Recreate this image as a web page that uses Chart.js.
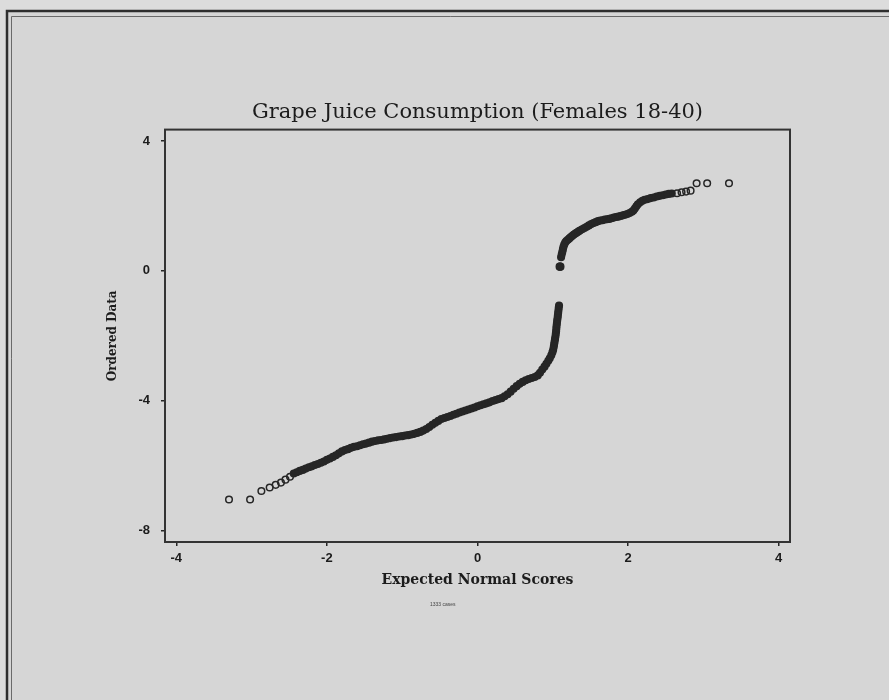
<!DOCTYPE html>
<html>
<head>
<meta charset="utf-8">
<script src="https://cdn.jsdelivr.net/npm/chart.js@4.4.1/dist/chart.umd.min.js"></script>
<style>
  html, body { margin: 0; padding: 0; background: #d6d6d6; }
  canvas { display: block; }
</style>
</head>
<body>
<canvas id="qq" width="889" height="700"></canvas>
<script>
// Text drawn on the chart
const chartTitle = 'Grape Juice Consumption (Females 18-40)';
const xAxisTitle = 'Expected Normal Scores';
const yAxisTitle = 'Ordered Data';
const caseNote = '1333 cases';

// Tick values on each axis
const xTicks = [-4, -2, 0, 2, 4];
const yTicks = [4, 0, -4, -8];

// Normal probability plot: expected normal score vs ordered value
const normalScores = [
  -3.30, -3.02, -2.87, -2.76, -2.68, -2.61, -2.55, -2.49, -2.44,
  -2.40, -2.36, -2.32, -2.28, -2.24, -2.20, -2.16, -2.12, -2.08, -2.04,
  -2.00, -1.96, -1.92, -1.88, -1.84, -1.80, -1.76, -1.72, -1.68, -1.64,
  -1.60, -1.56, -1.52, -1.48, -1.44, -1.40, -1.36, -1.32, -1.28, -1.24,
  -1.20, -1.16, -1.12, -1.08, -1.04, -1.00, -0.96, -0.92, -0.88, -0.84,
  -0.80, -0.76, -0.72, -0.68, -0.64, -0.60, -0.56, -0.52, -0.48, -0.44,
  -0.40, -0.36, -0.32, -0.28, -0.24, -0.20, -0.16, -0.12, -0.08, -0.04,
  0.00, 0.04, 0.08, 0.12, 0.16, 0.20, 0.24, 0.28, 0.32, 0.36,
  0.40, 0.44, 0.48, 0.52, 0.56, 0.60, 0.64, 0.68, 0.72, 0.76,
  0.80, 0.83, 0.86, 0.89, 0.915, 0.94, 0.96, 0.98, 0.995, 1.005,
  1.013, 1.018, 1.024, 1.030, 1.035, 1.040, 1.044, 1.047, 1.050, 1.054,
  1.058, 1.063, 1.067, 1.071, 1.075, 1.079, 1.083,
  1.090, 1.096, 1.102,
  1.110, 1.118, 1.126, 1.134, 1.142, 1.152, 1.165, 1.18, 1.20, 1.22,
  1.24, 1.26, 1.28, 1.30, 1.32, 1.34, 1.36, 1.39, 1.42, 1.45,
  1.48, 1.51, 1.54, 1.57, 1.60, 1.63, 1.66, 1.69, 1.72, 1.75,
  1.78, 1.81, 1.84, 1.87, 1.90, 1.93, 1.96, 1.99, 2.02, 2.05,
  2.07, 2.09, 2.11, 2.13, 2.16, 2.19, 2.22, 2.26, 2.30, 2.34,
  2.38, 2.42, 2.46, 2.50, 2.54, 2.58,
  2.65, 2.71, 2.77, 2.83, 2.91, 3.05, 3.34
];
const orderedData = [
  -7.04, -7.04, -6.78, -6.67, -6.59, -6.52, -6.43, -6.34, -6.24,
  -6.20, -6.16, -6.13, -6.09, -6.05, -6.02, -5.98, -5.95, -5.91, -5.87,
  -5.82, -5.78, -5.73, -5.68, -5.62, -5.56, -5.52, -5.49, -5.45, -5.42,
  -5.40, -5.37, -5.34, -5.32, -5.29, -5.26, -5.24, -5.22, -5.21, -5.19,
  -5.17, -5.15, -5.13, -5.12, -5.10, -5.09, -5.07, -5.06, -5.04, -5.02,
  -4.99, -4.96, -4.92, -4.87, -4.81, -4.74, -4.68, -4.62, -4.56, -4.53,
  -4.50, -4.47, -4.43, -4.40, -4.36, -4.33, -4.30, -4.27, -4.24, -4.21,
  -4.17, -4.14, -4.11, -4.08, -4.05, -4.01, -3.98, -3.95, -3.92, -3.86,
  -3.80, -3.72, -3.63, -3.55, -3.48, -3.42, -3.37, -3.33, -3.30, -3.27,
  -3.22, -3.14, -3.04, -2.95, -2.86, -2.77, -2.69, -2.60, -2.51, -2.43,
  -2.34, -2.26, -2.18, -2.10, -2.02, -1.94, -1.86, -1.78, -1.70, -1.62,
  -1.54, -1.46, -1.38, -1.30, -1.22, -1.14, -1.07,
  0.13, 0.13, 0.13,
  0.42, 0.50, 0.58, 0.66, 0.74, 0.81, 0.87, 0.92, 0.96, 1.00,
  1.04, 1.08, 1.12, 1.15, 1.18, 1.21, 1.24, 1.28, 1.32, 1.36,
  1.40, 1.44, 1.47, 1.50, 1.53, 1.55, 1.56, 1.58, 1.59, 1.60,
  1.62, 1.64, 1.66, 1.67, 1.69, 1.71, 1.73, 1.75, 1.78, 1.82,
  1.86, 1.92, 1.99, 2.05, 2.11, 2.16, 2.19, 2.21, 2.24, 2.26,
  2.29, 2.31, 2.33, 2.35, 2.37, 2.38,
  2.39, 2.42, 2.44, 2.47, 2.70, 2.70, 2.70
];

const ink = '#262626';
const paper = '#d6d6d6';
const serif = '"DejaVu Serif", "Liberation Serif", serif';
const sans = '"Liberation Sans", "DejaVu Sans", sans-serif';

const points = normalScores.map((x, i) => ({ x: x, y: orderedData[i] }));

// Markers that sit on top of their neighbours merge into a solid trace;
// isolated ones stay as open circles.
function markerFill(ctx) {
  const i = ctx.dataIndex;
  const ch = ctx.chart;
  if (i === undefined || !ch.scales || !ch.scales.x || !ch.scales.y) return 'rgba(0,0,0,0)';
  const sx = ch.scales.x, sy = ch.scales.y;
  const at = j => [sx.getPixelForValue(normalScores[j]), sy.getPixelForValue(orderedData[j])];
  const p = at(i);
  let nearest = Infinity;
  [i - 1, i + 1].forEach(j => {
    if (j >= 0 && j < normalScores.length) {
      const q = at(j);
      nearest = Math.min(nearest, Math.hypot(q[0] - p[0], q[1] - p[1]));
    }
  });
  return nearest < 4.4 ? ink : 'rgba(0,0,0,0)';
}

// Page background, outer frame, plot box and case count
const decor = {
  id: 'decor',
  beforeDraw(chart) {
    const c = chart.ctx;
    c.save();
    c.fillStyle = '#dcdcdc';
    c.fillRect(0, 0, chart.width, chart.height);
    c.fillStyle = paper;
    c.fillRect(8, 11, chart.width - 8, chart.height - 11);
    c.strokeStyle = '#2e2e2e';
    c.lineWidth = 2.5;
    c.beginPath();
    c.moveTo(7, chart.height); c.lineTo(7, 11); c.lineTo(chart.width, 11);
    c.stroke();
    c.strokeStyle = '#6a6a6a';
    c.lineWidth = 1;
    c.beginPath();
    c.moveTo(11.5, chart.height); c.lineTo(11.5, 16.5); c.lineTo(chart.width, 16.5);
    c.stroke();
    c.restore();
  },
  afterDatasetsDraw(chart) {
    const a = chart.chartArea;
    const c = chart.ctx;
    c.save();
    c.strokeStyle = '#333333';
    c.lineWidth = 2;
    c.strokeRect(a.left, a.top, a.right - a.left, a.bottom - a.top);
    c.fillStyle = '#444444';
    c.font = '5px ' + sans;
    c.textAlign = 'left';
    c.textBaseline = 'middle';
    c.fillText(caseNote, 430, 604.5);
    c.restore();
  }
};

new Chart(document.getElementById('qq'), {
  type: 'scatter',
  data: {
    datasets: [{
      label: yAxisTitle,
      data: points,
      pointRadius: 3.3,
      pointHoverRadius: 3.3,
      pointBorderWidth: 1.5,
      pointBorderColor: ink,
      pointBackgroundColor: markerFill,
      showLine: false
    }]
  },
  options: {
    responsive: false,
    animation: false,
    events: [],
    layout: { padding: { left: 0, right: 99, top: 0, bottom: 0 } },
    plugins: {
      legend: { display: false },
      tooltip: { enabled: false },
      title: {
        display: true,
        fullSize: false,
        text: chartTitle,
        color: '#1c1c1c',
        font: { family: serif, size: 21, weight: 'normal', lineHeight: 1.2 },
        padding: { top: 100.4, bottom: 4 }
      }
    },
    scales: {
      x: {
        type: 'linear',
        min: -4.15,
        max: 4.15,
        afterBuildTicks: s => { s.ticks = xTicks.map(v => ({ value: v })); },
        afterFit: s => { s.height = 158; },
        border: { display: false },
        grid: { drawOnChartArea: false, drawTicks: true, tickLength: 4, color: ink, lineWidth: 1.5 },
        ticks: {
          color: '#1c1c1c',
          padding: 5,
          font: { family: sans, size: 13, weight: 'bold' },
          callback: v => String(v)
        },
        title: {
          display: true,
          text: xAxisTitle,
          color: '#1c1c1c',
          font: { family: serif, size: 14, weight: 'bold', lineHeight: 1.2 },
          padding: { top: 0, bottom: 111.6 }
        }
      },
      y: {
        type: 'linear',
        min: -8.35,
        max: 4.35,
        afterBuildTicks: s => { s.ticks = yTicks.map(v => ({ value: v })); },
        afterFit: s => { s.width = 165; },
        border: { display: false },
        grid: { drawOnChartArea: false, drawTicks: true, tickLength: 4, color: ink, lineWidth: 1.5 },
        ticks: {
          color: '#1c1c1c',
          padding: 11,
          font: { family: sans, size: 13, weight: 'bold' },
          callback: v => String(v)
        },
        title: {
          display: true,
          text: yAxisTitle,
          color: '#1c1c1c',
          font: { family: serif, size: 12, weight: 'bold', lineHeight: 1.2 },
          padding: { top: 106, bottom: 0 }
        }
      }
    }
  },
  plugins: [decor]
});
</script>
</body>
</html>
